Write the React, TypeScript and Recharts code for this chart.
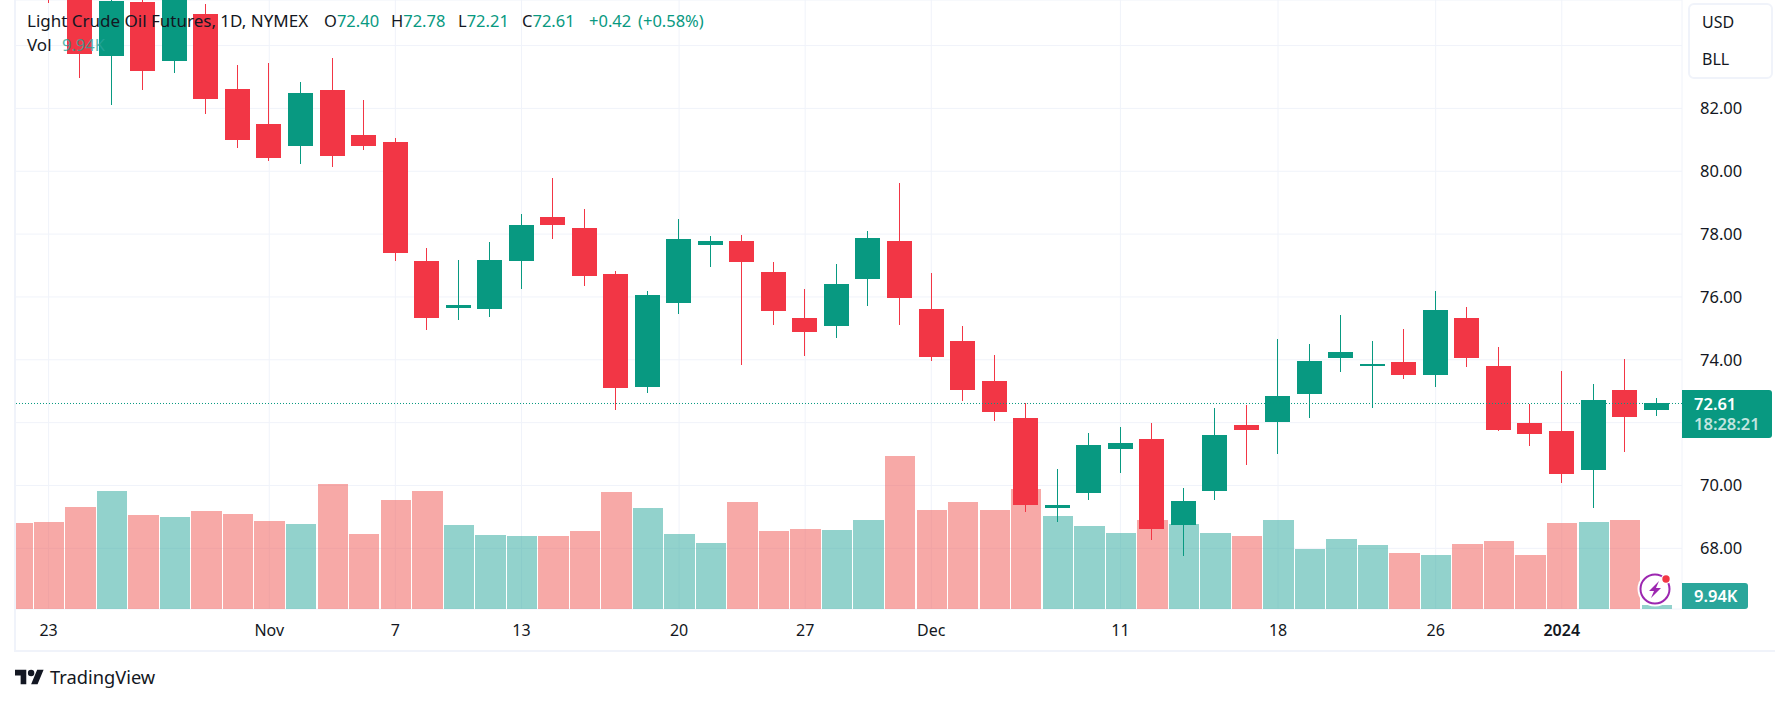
import React from 'react';
import { ComposedChart, Bar, Cell, XAxis, YAxis, CartesianGrid, ReferenceLine } from 'recharts';

const dates = [
  'Oct 20', 'Oct 23', 'Oct 24', 'Oct 25', 'Oct 26', 'Oct 27', 'Oct 30', 'Oct 31',
  'Nov 1', 'Nov 2', 'Nov 3', 'Nov 6', 'Nov 7', 'Nov 8', 'Nov 9', 'Nov 10', 'Nov 13', 'Nov 14', 'Nov 15', 'Nov 16', 'Nov 17',
  'Nov 20', 'Nov 21', 'Nov 22', 'Nov 24', 'Nov 27', 'Nov 28', 'Nov 29', 'Nov 30',
  'Dec 1', 'Dec 4', 'Dec 5', 'Dec 6', 'Dec 7', 'Dec 8', 'Dec 11', 'Dec 12', 'Dec 13', 'Dec 14', 'Dec 15',
  'Dec 18', 'Dec 19', 'Dec 20', 'Dec 21', 'Dec 22', 'Dec 26', 'Dec 27', 'Dec 28', 'Dec 29',
  'Jan 2', 'Jan 3', 'Jan 4', 'Jan 5',
];

// the first two candles sit above the visible range, only a wick end shows
const opens = [
  87.2, 87.0, 86.2, 83.67, 85.38, 83.51, 84.99, 82.61, 81.5, 80.81, 82.58, 81.15, 80.93, 77.15, 75.64, 75.61, 77.16, 78.55, 78.2,
  76.74, 73.13, 75.8, 77.64, 77.79, 76.8, 75.34, 75.07, 76.56, 77.79, 75.63, 74.61, 73.34, 72.14, 69.28, 69.77, 71.16, 71.47, 68.75,
  69.83, 71.92, 72.02, 72.9, 74.05, 73.79, 73.92, 73.53, 75.34, 73.79, 71.98, 71.72, 70.5, 73.03, 72.4,
];
const highs = [
  88.0, 87.4, 86.6, 85.8, 85.6, 86.0, 85.31, 83.38, 83.44, 82.84, 83.6, 82.26, 81.06, 77.57, 77.19, 77.76, 78.65, 79.79, 78.8,
  76.84, 76.2, 78.49, 77.95, 77.98, 77.12, 76.26, 77.06, 78.11, 79.63, 76.77, 75.06, 74.14, 72.63, 70.52, 71.66, 71.85, 71.98, 69.92,
  72.46, 72.55, 74.65, 74.49, 75.41, 74.61, 74.99, 76.2, 75.69, 74.42, 72.6, 73.63, 73.22, 74.01, 72.78,
];
const lows = [
  86.3, 85.35, 82.97, 82.12, 82.59, 83.13, 81.83, 80.75, 80.34, 80.24, 80.12, 80.69, 77.13, 74.94, 75.26, 75.35, 76.24, 77.83, 76.34,
  72.4, 72.94, 75.45, 76.94, 73.83, 75.1, 74.12, 74.69, 75.7, 75.1, 73.96, 72.69, 72.05, 69.16, 68.85, 69.54, 70.4, 68.27, 67.76,
  69.55, 70.66, 70.99, 72.15, 73.61, 72.47, 73.38, 73.13, 73.76, 71.72, 71.26, 70.08, 69.29, 71.07, 72.21,
];
const closes = [
  86.6, 86.0, 83.74, 85.41, 83.2, 85.6, 82.31, 81.0, 80.43, 82.49, 80.5, 80.81, 77.39, 75.32, 75.76, 77.19, 78.3, 78.28, 76.66,
  73.1, 76.07, 77.85, 77.79, 77.1, 75.54, 74.88, 76.42, 77.88, 75.96, 74.08, 73.04, 72.34, 69.38, 69.37, 71.28, 71.34, 68.62, 69.5,
  71.6, 71.77, 72.84, 73.95, 74.26, 73.88, 73.53, 75.6, 74.07, 71.77, 71.64, 70.37, 72.71, 72.18, 72.61,
];
// thousands of contracts
const volumes = [
  214, 216, 253, 293, 234, 229, 244, 236, 219, 211, 311, 186, 271, 293, 209, 184, 181, 181, 194,
  291, 251, 186, 164, 266, 194, 199, 196, 221, 380, 246, 266, 246, 298, 231, 206, 189, 221, 211,
  189, 181, 221, 149, 174, 159, 139, 134, 162, 169, 134, 214, 216, 221, 9.94,
];
// 1 = volume bar drawn in the up colour
const volumeUp = [
  0, 0, 0, 1, 0, 1, 0, 0, 0, 1, 0, 0, 0, 0, 1, 1, 1, 0, 0,
  0, 1, 1, 1, 0, 0, 0, 1, 1, 0, 0, 0, 0, 0, 1, 1, 1, 0, 1,
  1, 0, 1, 1, 1, 1, 0, 1, 0, 0, 0, 0, 1, 0, 1,
];

const tickDates = ['Oct 23', 'Nov 1', 'Nov 7', 'Nov 13', 'Nov 20', 'Nov 27', 'Dec 1', 'Dec 11', 'Dec 18', 'Dec 26', 'Jan 2'];
const tickTexts = ['23', 'Nov', '7', '13', '20', '27', 'Dec', '11', '18', '26', '2024'];
const priceTicks = [68, 70, 72, 74, 76, 78, 80, 82, 84];
const hiddenPriceLabels = [72, 84];

const legendValues = [
  { left: 324, head: 'O', text: '72.40' },
  { left: 391, head: 'H', text: '72.78' },
  { left: 458, head: 'L', text: '72.21' },
  { left: 522, head: 'C', text: '72.61' },
  { left: 589, head: '', text: '+0.42' },
  { left: 638, head: '', text: '(+0.58%)' },
];

const UP = '#089981';
const DOWN = '#f23645';
const UP_VOL = 'rgba(38,166,154,0.5)';
const DOWN_VOL = 'rgba(239,83,80,0.5)';
const FONT = '"Noto Sans", sans-serif';
const INK = '#131722';

const rows = dates.map((date, i) => ({
  date,
  open: opens[i],
  high: highs[i],
  low: lows[i],
  close: closes[i],
  volume: volumes[i],
}));

const TimeTick = ({ x, y, payload }: any) => {
  const label = tickTexts[tickDates.indexOf(payload.value)];
  return (
    <text x={x} y={y} dy={-11} textAnchor="middle" fontSize={16} fontFamily={FONT} fill={INK} fontWeight={label === '2024' ? 600 : 400}>
      {label}
    </text>
  );
};

const boxText: React.CSSProperties = { position: 'absolute', fontFamily: FONT, whiteSpace: 'nowrap', lineHeight: '20px' };

export default function App() {
  return (
    <div style={{ position: 'absolute', left: 0, top: 0, width: 1775, height: 704, background: '#fff', overflow: 'hidden' }}>
      <ComposedChart width={1775} height={704} data={rows} margin={{ top: 0, right: 0, bottom: 55, left: 1.3 }}>
        <CartesianGrid xAxisId="time" yAxisId="price" stroke="#f0f3fa" strokeWidth={1} />
        <XAxis
          xAxisId="time"
          dataKey="date"
          ticks={tickDates}
          interval={0}
          height={40}
          padding={{ left: 0, right: 9.9 }}
          axisLine={false}
          tickLine={false}
          tick={<TimeTick />}
        />
        <XAxis xAxisId="wick" dataKey="date" hide padding={{ left: 0, right: 9.9 }} />
        <XAxis xAxisId="body" dataKey="date" hide padding={{ left: 0, right: 9.9 }} />
        <YAxis
          yAxisId="price"
          orientation="right"
          width={93}
          domain={[66.07, 85.45]}
          allowDataOverflow
          ticks={priceTicks}
          interval={0}
          axisLine={false}
          tickLine={false}
          tick={{ fontSize: 16.5, fill: INK, fontFamily: FONT, dx: 10 }}
          tickFormatter={(v: number) => (hiddenPriceLabels.includes(v) ? '' : v.toFixed(2))}
        />
        <YAxis yAxisId="volume" hide domain={[0, 1513]} allowDataOverflow />

        <Bar xAxisId="time" yAxisId="volume" dataKey="volume" barSize={30.4} isAnimationActive={false} shapeRendering="crispEdges">
          {rows.map((_, i) => (
            <Cell key={i} fill={volumeUp[i] ? UP_VOL : DOWN_VOL} />
          ))}
        </Bar>
        <ReferenceLine xAxisId="time" yAxisId="price" y={closes[closes.length - 1]} stroke={UP} strokeDasharray="1 2" />
        <Bar xAxisId="wick" yAxisId="price" dataKey={(d: any) => [d.low, d.high]} barSize={1} isAnimationActive={false} shapeRendering="crispEdges">
          {rows.map((d, i) => (
            <Cell key={i} fill={d.close >= d.open ? UP : DOWN} />
          ))}
        </Bar>
        <Bar xAxisId="body" yAxisId="price" dataKey={(d: any) => [d.open, d.close]} barSize={25} isAnimationActive={false} shapeRendering="crispEdges">
          {rows.map((d, i) => (
            <Cell key={i} fill={d.close >= d.open ? UP : DOWN} />
          ))}
        </Bar>
      </ComposedChart>

      {/* frame */}
      <div style={{ position: 'absolute', left: 0, top: 0, width: 14, height: 704, background: '#fff' }} />
      <div style={{ position: 'absolute', left: 14, top: 0, width: 2, height: 652, background: '#f0f3fa' }} />
      <div style={{ position: 'absolute', left: 14, top: 650, width: 1761, height: 2, background: '#f0f3fa' }} />

      {/* legend */}
      <div style={{ ...boxText, left: 27, top: 11, fontSize: 17, color: INK }}>Light Crude Oil Futures, 1D, NYMEX</div>
      {legendValues.map((v) => (
        <div key={v.left} style={{ ...boxText, left: v.left, top: 11, fontSize: 16.5, color: UP }}>
          <span style={{ color: INK }}>{v.head}</span>
          {v.text}
        </div>
      ))}
      <div style={{ ...boxText, left: 27, top: 35, fontSize: 17, color: INK }}>Vol</div>
      <div style={{ ...boxText, left: 62, top: 35, fontSize: 16.5, color: '#26a69a', opacity: 0.8 }}>9.94K</div>

      {/* currency box */}
      <div style={{ position: 'absolute', left: 1688, top: 3, width: 81, height: 72, background: '#fff', border: '2px solid #f0f3fa', borderRadius: 6 }} />
      <div style={{ ...boxText, left: 1702, top: 12, fontSize: 16, color: INK }}>USD</div>
      <div style={{ ...boxText, left: 1702, top: 49, fontSize: 16, color: INK }}>BLL</div>

      {/* last price and volume tags */}
      <div style={{ position: 'absolute', left: 1682, top: 390, width: 90, height: 48, background: UP, borderRadius: '0 3px 3px 0' }} />
      <div style={{ ...boxText, left: 1694, top: 394, fontSize: 16.5, color: '#fff', fontWeight: 600 }}>72.61</div>
      <div style={{ ...boxText, left: 1694, top: 414, fontSize: 16.5, color: 'rgba(255,255,255,0.75)', fontWeight: 600 }}>18:28:21</div>
      <div style={{ position: 'absolute', left: 1682, top: 583, width: 66, height: 26, background: '#2aa69b', borderRadius: '0 3px 3px 0' }} />
      <div style={{ ...boxText, left: 1694, top: 586, fontSize: 16.5, color: '#fff', fontWeight: 600 }}>9.94K</div>

      {/* badge */}
      <svg style={{ position: 'absolute', left: 1637, top: 571 }} width={36} height={36} viewBox="0 0 36 36">
        <circle cx={18} cy={18} r={17.5} fill="#fff" />
        <circle cx={18} cy={18} r={14.5} fill="#fff" stroke="#9c27b0" strokeWidth={2} />
        <path d="M22 10 L12 20 L17 20 L14 27 L24 17 L19 17 Z" fill="#9c27b0" />
        <circle cx={29} cy={8} r={5} fill="#fff" />
        <circle cx={29} cy={8} r={3.7} fill="#f23645" />
      </svg>

      {/* logo */}
      <svg style={{ position: 'absolute', left: 15, top: 669 }} width={29} height={16} viewBox="0 4 36 18">
        <path d="M14 22H7V11H0V4h14v18zM28 22h-8l7.5-18h8L28 22z" fill={INK} />
        <circle cx={20} cy={8} r={4} fill={INK} />
      </svg>
      <div style={{ ...boxText, left: 50, top: 667, fontSize: 18.3, color: INK }}>TradingView</div>
    </div>
  );
}
